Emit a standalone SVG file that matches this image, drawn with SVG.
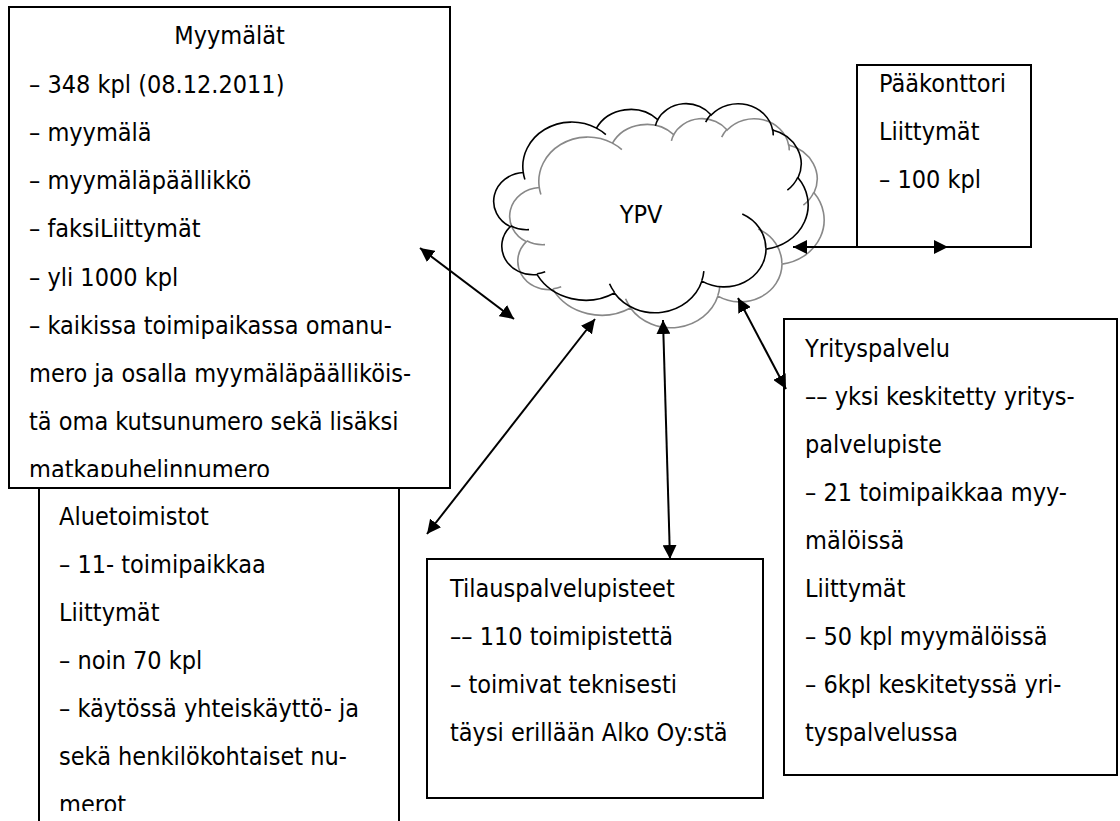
<svg xmlns="http://www.w3.org/2000/svg" width="1120" height="821" viewBox="0 0 1120 821">
  <defs>
    <style>
      .box { fill: #ffffff; stroke: #000000; stroke-width: 2; }
      .t { font-family: "DejaVu Sans Condensed", "DejaVu Sans", sans-serif; font-stretch: condensed; font-size: 25px; fill: #000000; }
      .conn { stroke: #000000; stroke-width: 2; fill: none; marker-start: url(#head); marker-end: url(#head); }
      .cloud { fill: none; stroke-width: 1.6; vector-effect: non-scaling-stroke; }
      .shade { stroke: #888888; }
      .ink { stroke: #000000; }
    </style>
    <marker id="head" viewBox="0 0 14 14" refX="14" refY="7" markerWidth="14" markerHeight="14" markerUnits="userSpaceOnUse" orient="auto-start-reverse">
      <path d="M0,0 L14,7 L0,14 z" fill="#000000"/>
    </marker>
    <clipPath id="clipMyy"><rect x="9" y="7" width="441" height="470"/></clipPath>
    <clipPath id="clipAlue"><rect x="39" y="488" width="360" height="323"/></clipPath>
  </defs>

  <rect width="1120" height="821" fill="#ffffff"/>

  <!-- YPV network cloud: outline and inner puff strokes, drawn in a 43200-unit square -->
  <g id="ypv">
    <g transform="translate(511 118) scale(0.0072454 0.004838)">
      <path class="cloud shade" d="M3900 14370 A6753 9190 0 0 1 14005 5202 A5333 7267 0 0 1 22457 3431 A4365 5945 0 0 1 29834 2480 A4857 6595 0 0 1 38319 5575 A5333 7273 0 0 1 41819 15459 A6775 9220 0 0 1 37405 30203 A5785 7867 0 0 1 28557 36813 A6752 9215 0 0 1 16481 39264 A7720 10543 0 0 1 5806 35470 A4360 5918 0 0 1 2114 25548 A4345 5945 0 0 1 3900 14370 Z"/>
      <path class="cloud shade" d="M4693 26177 A4345 5945 0 0 1 2160 25380 M6928 34899 A4360 5918 0 0 1 5820 35280 M16478 39090 A6752 9215 0 0 1 15810 37350 M28827 34751 A6752 9215 0 0 1 28560 36660 M34129 22954 A5785 7867 0 0 1 37381 30090 M41798 15354 A5333 7273 0 0 1 40350 18030 M38324 5426 A4857 6595 0 0 1 38400 6690 M29078 3952 A4857 6595 0 0 1 29820 2340 M22141 4720 A4365 5945 0 0 1 22500 3330 M14000 5192 A6753 9190 0 0 1 15300 6540 M4127 15789 A6753 9190 0 0 1 3900 14371"/>
    </g>
    <g transform="translate(495 103) scale(0.0072454 0.004838)">
      <path class="cloud ink" d="M3900 14370 A6753 9190 0 0 1 14005 5202 A5333 7267 0 0 1 22457 3431 A4365 5945 0 0 1 29834 2480 A4857 6595 0 0 1 38319 5575 A5333 7273 0 0 1 41819 15459 A6775 9220 0 0 1 37405 30203 A5785 7867 0 0 1 28557 36813 A6752 9215 0 0 1 16481 39264 A7720 10543 0 0 1 5806 35470 A4360 5918 0 0 1 2114 25548 A4345 5945 0 0 1 3900 14370 Z"/>
      <path class="cloud ink" d="M4693 26177 A4345 5945 0 0 1 2160 25380 M6928 34899 A4360 5918 0 0 1 5820 35280 M16478 39090 A6752 9215 0 0 1 15810 37350 M28827 34751 A6752 9215 0 0 1 28560 36660 M34129 22954 A5785 7867 0 0 1 37381 30090 M41798 15354 A5333 7273 0 0 1 40350 18030 M38324 5426 A4857 6595 0 0 1 38400 6690 M29078 3952 A4857 6595 0 0 1 29820 2340 M22141 4720 A4365 5945 0 0 1 22500 3330 M14000 5192 A6753 9190 0 0 1 15300 6540 M4127 15789 A6753 9190 0 0 1 3900 14371"/>
    </g>
    <text class="t" x="641" y="223" text-anchor="middle" font-size="28">YPV</text>
  </g>

  <!-- Aluetoimistot (sits behind Myymälät) -->
  <g id="aluetoimistot">
    <rect class="box" x="39" y="480" width="360" height="360"/>
    <g clip-path="url(#clipAlue)">
      <text class="t" x="59" y="525">Aluetoimistot</text>
      <text class="t" x="59" y="573">– 11- toimipaikkaa</text>
      <text class="t" x="59" y="621">Liittymät</text>
      <text class="t" x="59" y="669">– noin 70 kpl</text>
      <text class="t" x="59" y="717">– käytössä yhteiskäyttö- ja</text>
      <text class="t" x="59" y="765">sekä henkilökohtaiset nu-</text>
      <text class="t" x="59" y="813">merot</text>
    </g>
  </g>

  <!-- Myymälät -->
  <g id="myymalat">
    <rect class="box" x="9" y="7" width="441" height="481"/>
    <g clip-path="url(#clipMyy)">
      <text class="t" x="229.5" y="44" text-anchor="middle">Myymälät</text>
      <text class="t" x="29" y="93">– 348 kpl (08.12.2011)</text>
      <text class="t" x="29" y="141">– myymälä</text>
      <text class="t" x="29" y="189">– myymäläpäällikkö</text>
      <text class="t" x="29" y="237">– faksiLiittymät</text>
      <text class="t" x="29" y="285.5">– yli 1000 kpl</text>
      <text class="t" x="29" y="333.5">– kaikissa toimipaikassa omanu-</text>
      <text class="t" x="29" y="381.7">mero ja osalla myymäläpäälliköis-</text>
      <text class="t" x="29" y="430">tä oma kutsunumero sekä lisäksi</text>
      <text class="t" x="29" y="478">matkapuhelinnumero</text>
    </g>
  </g>

  <!-- Pääkonttori -->
  <g id="paakonttori">
    <rect class="box" x="857" y="65" width="174" height="182"/>
    <text class="t" x="879" y="92">Pääkonttori</text>
    <text class="t" x="879" y="140">Liittymät</text>
    <text class="t" x="879" y="188">– 100 kpl</text>
  </g>

  <!-- Tilauspalvelupisteet -->
  <g id="tilauspalvelupisteet">
    <rect class="box" x="427" y="559" width="336" height="239"/>
    <text class="t" x="450" y="597">Tilauspalvelupisteet</text>
    <text class="t" x="450" y="645">–– 110 toimipistettä</text>
    <text class="t" x="450" y="693">– toimivat teknisesti</text>
    <text class="t" x="450" y="741">täysi erillään Alko Oy:stä</text>
  </g>

  <!-- Yrityspalvelu -->
  <g id="yrityspalvelu">
    <rect class="box" x="784" y="319" width="333" height="456"/>
    <text class="t" x="805" y="357">Yrityspalvelu</text>
    <text class="t" x="805" y="405">–– yksi keskitetty yritys-</text>
    <text class="t" x="805" y="453">palvelupiste</text>
    <text class="t" x="805" y="501">– 21 toimipaikkaa myy-</text>
    <text class="t" x="805" y="549">mälöissä</text>
    <text class="t" x="805" y="597">Liittymät</text>
    <text class="t" x="805" y="645">– 50 kpl myymälöissä</text>
    <text class="t" x="805" y="693">– 6kpl keskitetyssä yri-</text>
    <text class="t" x="805" y="741">tyspalvelussa</text>
  </g>

  <!-- two-way links to the network -->
  <g id="connectors">
    <line class="conn" x1="420" y1="248" x2="514" y2="319"/>
    <line class="conn" x1="427" y1="534" x2="595" y2="319"/>
    <line class="conn" x1="663" y1="320" x2="670" y2="559"/>
    <line class="conn" x1="738" y1="298" x2="786" y2="389"/>
    <line class="conn" x1="793" y1="247" x2="948" y2="247"/>
  </g>
</svg>
